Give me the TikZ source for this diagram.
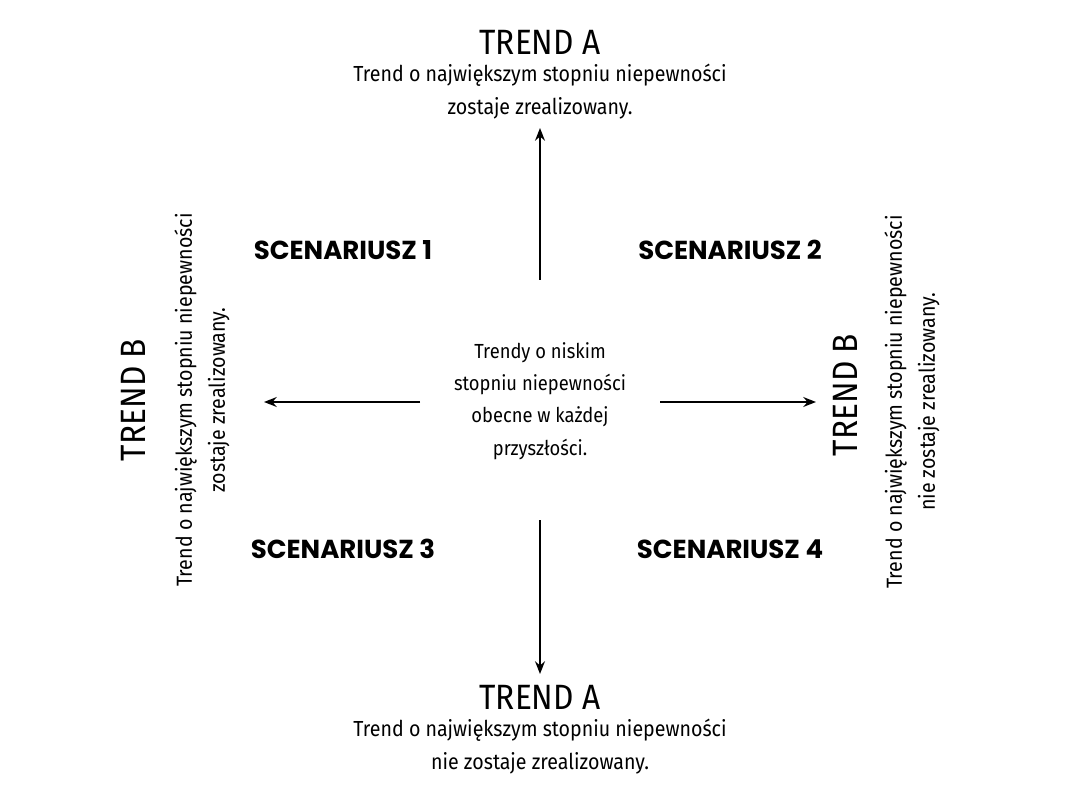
\documentclass[tikz,border=0pt]{standalone}
\usepackage{fontspec}
\setmainfont{Fira Sans}[FakeStretch=0.9]
\newfontfamily\headfont{Poppins}[FakeStretch=1.0]
\usetikzlibrary{positioning,arrows.meta}
\begin{document}
\begin{tikzpicture}[x=0.025cm,y=-0.025cm, thick]
	\tikzstyle{trend} = [font=\fontsize{25}{28}\selectfont, inner sep=0pt]
	\tikzstyle{desc} = [font=\fontsize{15.5}{23.5}\selectfont, align=center, inner sep=0pt]
	\tikzstyle{scen} = [font=\headfont\bfseries\fontsize{18.5}{20}\selectfont, inner sep=0pt]
	\tikzstyle{axis} = [line width=1.4pt, -{Stealth[length=9pt,width=7pt]}]
	\useasboundingbox (0,0) rectangle (1080,800);
	% top
	\node (trendTop) at (540,42) [trend] {TREND A};
	\node (descTop) at (540,92) [desc] {Trend o największym stopniu niepewności\\zostaje zrealizowany.};
	% bottom
	\node (trendBot) at (540,697) [trend] {TREND A};
	\node (descBot) at (540,747) [desc] {Trend o największym stopniu niepewności\\nie zostaje zrealizowany.};
	% left
	\node (trendLeft) at (133,400) [trend, rotate=90] {TREND B};
	\node (descLeft) at (202,400) [desc, rotate=90] {Trend o największym stopniu niepewności\\zostaje zrealizowany.};
	% right
	\node (trendRight) at (845,395) [trend, rotate=90] {TREND B};
	\node (descRight) at (912,402) [desc, rotate=90] {Trend o największym stopniu niepewności\\nie zostaje zrealizowany.};
	% center
	\node (center) at (540,401) [desc, font=\fontsize{14.5}{23}\selectfont] {Trendy o niskim\\stopniu niepewności\\obecne w każdej\\przyszłości.};
	% scenarios
	\node (s1) at (343,250) [scen] {SCENARIUSZ 1};
	\node (s2) at (730,250) [scen] {SCENARIUSZ 2};
	\node (s3) at (343,549) [scen] {SCENARIUSZ 3};
	\node (s4) at (730,549) [scen] {SCENARIUSZ 4};
	% arrows
	\coordinate (upStart) at (540,280);
	\coordinate (upEnd) at (540,128);
	\coordinate (downStart) at (540,520);
	\coordinate (downEnd) at (540,674);
	\coordinate (leftStart) at (420,402);
	\coordinate (leftEnd) at (264,402);
	\coordinate (rightStart) at (660,402);
	\coordinate (rightEnd) at (816,402);
	\draw[axis] (upStart) -- (upEnd);
	\draw[axis] (downStart) -- (downEnd);
	\draw[axis] (leftStart) -- (leftEnd);
	\draw[axis] (rightStart) -- (rightEnd);
\end{tikzpicture}
\end{document}
